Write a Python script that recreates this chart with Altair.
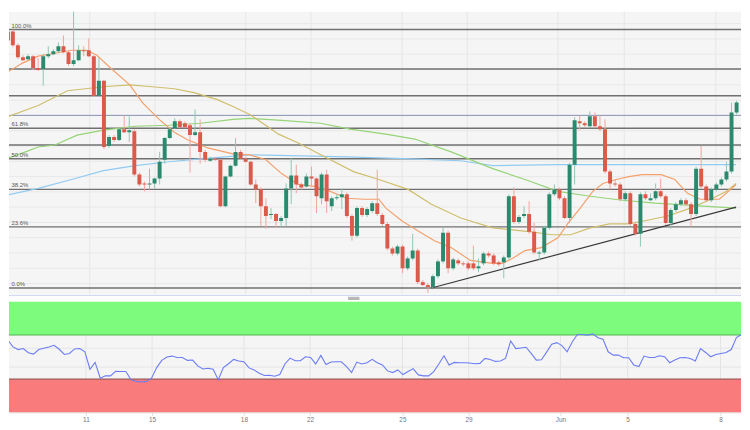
import altair as alt
import pandas as pd

# ---------------- data (price units are arbitrary points) ----------------
candle_open = [263,272,258,246,244,247,235,234,247,249,
               252,257,251,239,243,253,253,247,207,222,
               156,165,162,173,170,171,127,118,117,118,
               123,142,164,174,181,179,177,167,170,150,
               141,143,142,95,125,136,150,143,140,117,
               112,95,86,87,80,83,113,126,117,115,
               125,123,103,127,95,103,104,107,85,65,
               93,86,90,98,86,77,52,47,54,32,
               42,50,18,15,13,24,39,68,32,40,
               37,37,37,32,37,47,45,38,38,43,
               105,79,85,87,69,47,48,73,107,112,
               103,83,137,181,179,176,186,176,173,130,
               118,117,102,108,77,67,107,101,103,110,
               105,78,91,97,101,97,87,133,115,101,
               112,117,122,130,190]
candle_close = [272,258,246,243,247,235,233,247,249,252,
                257,251,239,243,253,252,247,207,222,155,
                165,162,173,170,172,127,117,117,118,123,
                140,164,173,181,175,175,167,170,150,142,
                143,142,95,125,136,150,143,140,117,112,
                95,85,87,80,83,113,126,117,114,125,
                123,105,127,100,103,104,107,85,65,93,
                86,92,98,87,77,52,47,54,32,42,
                50,18,15,13,24,39,68,32,41,37,
                36,32,32,34,47,45,37,36,43,105,
                79,84,87,69,48,48,73,107,112,103,
                83,137,182,179,177,186,176,173,130,118,
                117,102,108,77,67,107,103,103,110,105,
                78,91,97,101,97,87,133,115,101,112,
                117,122,130,190,200]
candle_high = [287,274,260,248,249,248,245,249,257,254,
               261,268,253,295,258,257,265,248,245,223,
               167,167,174,187,186,173,129,120,133,124,
               150,165,175,184,183,181,179,193,183,152,
               145,145,143,126,137,164,152,145,141,122,
               114,103,93,88,85,118,144,137,119,128,
               135,124,129,132,105,107,113,109,87,95,
               95,94,100,132,88,79,54,56,56,44,
               67,52,20,17,26,41,73,70,43,42,
               39,39,55,42,49,49,47,40,45,107,
               114,86,95,100,78,50,75,109,117,114,
               105,139,185,187,181,191,190,187,183,132,
               122,119,110,110,79,109,110,108,118,123,
               107,93,99,103,103,99,135,156,117,114,
               119,124,140,200,202]
candle_low = [258,256,244,242,243,233,232,217,245,248,
              250,250,237,237,242,247,246,206,206,153,
              154,160,161,169,160,125,115,110,112,113,
              117,138,163,173,174,174,129,166,138,140,
              140,141,94,94,124,135,142,139,116,98,
              75,72,82,73,74,75,97,108,112,114,
              115,88,97,88,90,101,92,83,60,63,
              84,84,88,85,75,50,45,45,27,30,
              40,16,14,7,12,22,37,27,30,35,
              34,30,30,28,35,43,35,34,22,41,
              77,77,83,67,46,40,46,71,105,101,
              82,78,117,172,175,174,174,171,128,112,
              115,100,100,75,65,54,101,100,101,103,
              76,72,89,95,95,74,85,113,99,99,
              110,115,120,128,188]
rsi_values = [69.6,65.2,59.2,56.8,57.7,53.9,52.7,56.8,58.0,59.2,
              60.7,57.1,52.4,53.3,57.4,57.7,54.8,39.0,45.2,30.9,
              33.0,33.0,37.2,36.9,36.9,29.5,28.0,27.4,28.0,30.9,
              40.5,47.0,50.0,50.9,49.7,49.7,47.0,47.3,42.0,39.3,
              39.9,39.0,29.5,40.5,44.0,47.9,46.4,45.8,40.2,38.4,
              35.4,33.3,33.6,32.7,34.2,43.8,49.1,46.7,46.7,50.3,
              49.7,43.8,51.5,43.2,45.5,45.8,45.8,41.4,36.0,45.5,
              43.8,44.9,47.9,44.9,42.9,37.5,36.0,38.4,34.2,36.9,
              39.6,33.9,33.0,33.0,36.9,43.8,51.2,42.9,45.2,44.9,
              44.9,44.6,44.0,44.3,48.8,47.9,46.1,46.4,48.8,64.6,
              57.7,58.3,58.9,53.3,47.3,47.6,54.5,61.6,63.1,60.4,
              54.8,63.7,70.5,70.5,69.9,71.1,67.6,66.1,54.8,51.8,
              51.8,49.4,49.4,42.9,41.4,50.9,49.7,49.7,51.2,50.3,
              44.9,47.3,49.4,49.7,48.8,46.4,57.7,54.2,50.3,52.4,
              53.3,54.2,56.8,67.6,70.5]

ma_orange_idx = [-0.3,2.9,6.0,9.3,12.6,15.6,17.6,20.3,24.1,26.6,29.9,32.9,35.6,38.1,39.5,44.5,47.8,51.0,54.1,57.4,
                 60.6,63.7,67.0,70.3,73.3,74.7,77.9,81.0,84.3,87.6,91.4,95.8,97.8,99.7,102.2,105.4,108.7,110.6,113.1,115.6,
                 117.6,120.2,122.7,125.3,129.1,131.8,134.3,136.8,140.6,143.9]
ma_orange_val = [230,240,247,250,253,253,248,235,218,200,183,170,162,157,154,148,147,142,128,117,
                 115,110,103,102,102,93,80,70,60,53,40,37,37,42,50,53,63,77,93,110,
                 118,122,125,127,127,122,108,102,102,117]
ma_yellow_idx = [-0.3,6.0,11.8,18.9,24.1,28.5,32.9,36.8,41.4,44.5,47.8,53.5,57.4,62.6,68.3,73.3,79.1,83.7,89.5,95.8,
                 99.7,103.5,107.4,111.2,115.1,118.9,122.7,126.6,130.4,134.3,138.1,142.0,143.9]
ma_yellow_val = [185,197,212,216,218,216,214,210,203,196,188,168,159,145,130,122,112,97,83,73,
                 71,69,66,66,73,77,77,81,85,92,100,110,118]
ma_green_idx = [-0.3,3.5,6.0,9.3,13.7,18.9,25.2,31.8,38.1,44.5,47.8,54.1,61.8,67.6,74.7,80.4,87.6,95.8,102.2,108.7,
                115.1,121.4,127.9,134.3,140.6,143.9]
ma_green_val = [143,150,155,157,167,172,176,177,179,183,184,182,179,173,168,163,150,133,122,110,
                105,101,98,96,94,93]
ma_blue_idx = [-0.3,6.0,12.6,18.9,25.2,31.8,38.1,47.8,67.0,79.9,89.5,95.8,108.7,121.4,134.3,143.9]
ma_blue_val = [106,113,122,131,136,140,143,147,145,143,141,136,137,137,137,137]

fib_levels = [274, 174, 143, 112, 74, 12]
fib_labels = ["100.0%", "61.8%", "50.0%", "38.2%", "23.6%", "0.0%"]
sr_levels = [234, 207, 157]
price_line_level = [187]
trend_idx = [83.7, 143.9]
trend_val = [12, 94]

day_ticks = [16.2, 29.1, 47.0, 59.9, 77.9, 90.8, 108.7, 121.8, 139.9]
day_labels = ["11", "15", "18", "22", "25", "29", "Jun", "5", "8"]
price_grid = [16.5, 32, 47.5, 63, 78.5, 94, 109.5, 125, 140.5, 156, 171.5, 187, 202.5, 218, 233.5, 249, 264.5, 280]
rsi_grid = [58, 41]
band_lo = [70, 30, 0]
band_hi = [100, 70, 30]
band_col = ["#7dfb7d", "#f5f5f5", "#f97b7b"]

# ---------------- styling ----------------
W = 742
H_PRICE = 286
H_RSI = 119
GREEN = "#2b8a6e"
RED = "#dc5a4b"
GREEN_WICK = "#8cc7b4"
RED_WICK = "#f0a59c"
FONT = "Liberation Sans"

xs = alt.Scale(domain=[1.21, 143.9], nice=False, zero=False)
ys = alt.Scale(domain=[6, 292], nice=False, zero=False)
rs = alt.Scale(domain=[0, 106.25], nice=False, zero=False)

candles = pd.DataFrame({"i": list(range(len(candle_open))), "open": candle_open, "close": candle_close,
                        "high": candle_high, "low": candle_low})
ticks_df = pd.DataFrame({"t": day_ticks, "lab": day_labels, "lo": [30] * len(day_ticks), "hi": [70] * len(day_ticks)})
pgrid_df = pd.DataFrame({"v": price_grid})
fib_df = pd.DataFrame({"v": fib_levels, "label": fib_labels})
sr_df = pd.DataFrame({"v": sr_levels + fib_levels})
pl_df = pd.DataFrame({"v": price_line_level})
trend_df = pd.DataFrame({"i": trend_idx, "v": trend_val})


def ma_layer(idx, vals, color):
    df = pd.DataFrame({"i": idx, "v": vals})
    return alt.Chart(df).mark_line(color=color, strokeWidth=1.2, clip=True).encode(
        x=alt.X("i:Q", scale=xs, axis=None), y=alt.Y("v:Q", scale=ys, axis=None))


up = "datum.close > datum.open"

price = alt.layer(
    alt.Chart(ticks_df).mark_rule(color="#e6e6e6", strokeWidth=1).encode(
        x=alt.X("t:Q", scale=xs, axis=None)),
    alt.Chart(pgrid_df).mark_rule(color="#e8e8e8", strokeWidth=1).encode(
        y=alt.Y("v:Q", scale=ys, axis=None)),
    alt.Chart(sr_df).mark_rule(color="#707070", strokeWidth=1.5).encode(
        y=alt.Y("v:Q", scale=ys, axis=None)),
    alt.Chart(pl_df).mark_rule(color="#8892b4", strokeWidth=1).encode(
        y=alt.Y("v:Q", scale=ys, axis=None)),
    ma_layer(ma_blue_idx, ma_blue_val, "#92cbf2"),
    ma_layer(ma_green_idx, ma_green_val, "#95d477"),
    ma_layer(ma_yellow_idx, ma_yellow_val, "#cfbe6c"),
    ma_layer(ma_orange_idx, ma_orange_val, "#f4a06c"),
    alt.Chart(trend_df).mark_line(color="#3a3a3a", strokeWidth=1.2, clip=True).encode(
        x=alt.X("i:Q", scale=xs, axis=None), y=alt.Y("v:Q", scale=ys, axis=None)),
    alt.Chart(candles).mark_rule(strokeWidth=1, clip=True).encode(
        x=alt.X("i:Q", scale=xs, axis=None),
        y=alt.Y("low:Q", scale=ys, axis=None), y2="high:Q",
        color=alt.condition(up, alt.value(GREEN_WICK), alt.value(RED_WICK))),
    alt.Chart(candles).mark_bar(size=4, clip=True).encode(
        x=alt.X("i:Q", scale=xs, axis=None),
        y=alt.Y("open:Q", scale=ys, axis=None), y2="close:Q",
        color=alt.condition(up, alt.value(GREEN), alt.value(RED))),
    alt.Chart(fib_df).mark_text(align="left", baseline="alphabetic", dy=-2, fontSize=6,
                                color="#555555", font=FONT).encode(
        x=alt.value(2.5), y=alt.Y("v:Q", scale=ys, axis=None), text="label:N"),
).properties(width=W, height=H_PRICE, view=alt.ViewBackground(fill="#f5f5f5", strokeWidth=0))

label_expr = ("[" + ",".join("'" + l + "'" for l in day_labels) + "][indexof(["
              + ",".join(str(t) for t in day_ticks) + "], datum.value)]")
xaxis = alt.Axis(values=day_ticks, labelExpr=label_expr, grid=False, domainColor="#dadada",
                 tickColor="#e0e0e0", tickSize=3, labelPadding=1, labelFontSize=6.5,
                 labelColor="#777777", labelFont=FONT, title=None, labelOverlap=False)

bands_df = pd.DataFrame({"lo": band_lo, "hi": band_hi, "c": band_col})
rsi_df = pd.DataFrame({"i": list(range(len(rsi_values))), "rsi": rsi_values})
rgrid_df = pd.DataFrame({"v": rsi_grid})
edge_df = pd.DataFrame({"v": [70, 30], "c": ["#55b455", "#9c5555"]})

rsi = alt.layer(
    alt.Chart(bands_df).mark_rect().encode(
        x=alt.value(0), x2=alt.value(W),
        y=alt.Y("lo:Q", scale=rs, axis=None), y2="hi:Q",
        color=alt.Color("c:N", scale=None)),
    alt.Chart(ticks_df).mark_rule(color="#e4e4e4", strokeWidth=1).encode(
        x=alt.X("t:Q", scale=xs, axis=xaxis),
        y=alt.Y("lo:Q", scale=rs, axis=None), y2="hi:Q"),
    alt.Chart(rgrid_df).mark_rule(color="#e6e6e6", strokeWidth=1).encode(
        y=alt.Y("v:Q", scale=rs, axis=None)),
    alt.Chart(edge_df).mark_rule(strokeWidth=1.2).encode(
        y=alt.Y("v:Q", scale=rs, axis=None), color=alt.Color("c:N", scale=None)),
    alt.Chart(bands_df).mark_rule(color="#d3d7ee", strokeWidth=1).encode(
        x=alt.value(0), x2=alt.value(W), y=alt.value(0.5)),
    alt.Chart(bands_df).mark_rect(color="#b8b8b8").encode(
        x=alt.value(344), x2=alt.value(355), y=alt.value(2), y2=alt.value(5)),
    alt.Chart(rsi_df).mark_line(color="#6b7cf5", strokeWidth=1.1, clip=True).encode(
        x=alt.X("i:Q", scale=xs, axis=xaxis),
        y=alt.Y("rsi:Q", scale=rs, axis=None)),
).properties(width=W, height=H_RSI)

chart = alt.vconcat(price, rsi, spacing=0).resolve_scale(
    x="independent", y="independent").properties(padding=0).configure_view(strokeWidth=0)

chart.save("out.html", embed_options={"renderer": "svg", "actions": False})
